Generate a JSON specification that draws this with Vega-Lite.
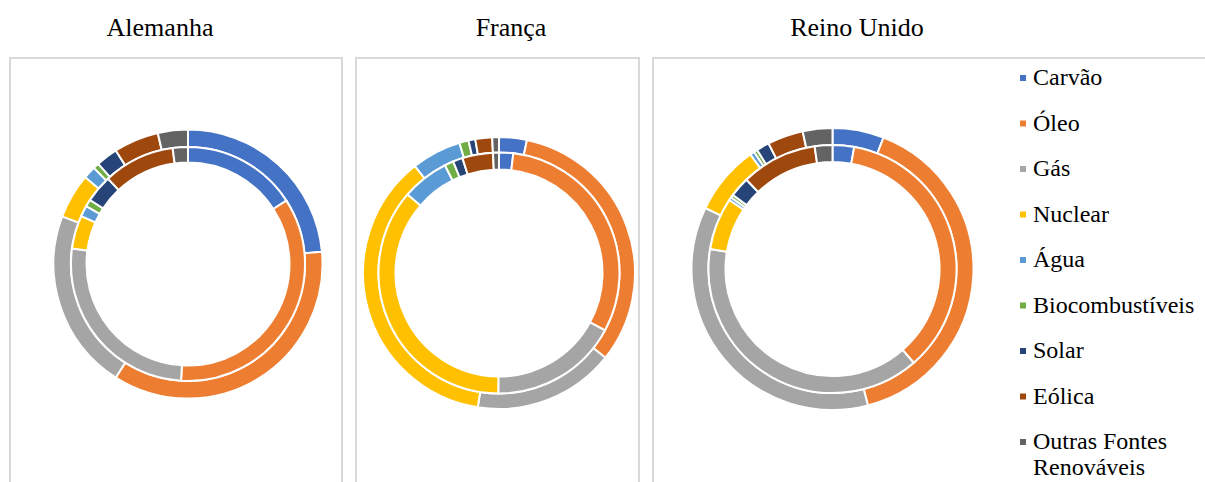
{
  "$schema": "https://vega.github.io/schema/vega-lite/v6.json",
  "padding": {"left": 9, "top": 14, "right": 0, "bottom": 0},
  "background": "white",
  "data": {
    "values": [
      {"pais": "Alemanha", "anel": "externo", "fonte": "Carvão", "ordem": 1, "valor": 23.5},
      {"pais": "Alemanha", "anel": "externo", "fonte": "Óleo", "ordem": 2, "valor": 35.4},
      {"pais": "Alemanha", "anel": "externo", "fonte": "Gás", "ordem": 3, "valor": 21.7},
      {"pais": "Alemanha", "anel": "externo", "fonte": "Nuclear", "ordem": 4, "valor": 5.4},
      {"pais": "Alemanha", "anel": "externo", "fonte": "Água", "ordem": 5, "valor": 1.5},
      {"pais": "Alemanha", "anel": "externo", "fonte": "Biocombustíveis", "ordem": 6, "valor": 0.7},
      {"pais": "Alemanha", "anel": "externo", "fonte": "Solar", "ordem": 7, "valor": 2.6},
      {"pais": "Alemanha", "anel": "externo", "fonte": "Eólica", "ordem": 8, "valor": 5.4},
      {"pais": "Alemanha", "anel": "externo", "fonte": "Outras Fontes Renováveis", "ordem": 9, "valor": 3.6},
      {"pais": "Alemanha", "anel": "interno", "fonte": "Carvão", "ordem": 1, "valor": 15.9},
      {"pais": "Alemanha", "anel": "interno", "fonte": "Óleo", "ordem": 2, "valor": 35.1},
      {"pais": "Alemanha", "anel": "interno", "fonte": "Gás", "ordem": 3, "valor": 26.2},
      {"pais": "Alemanha", "anel": "interno", "fonte": "Nuclear", "ordem": 4, "valor": 4.6},
      {"pais": "Alemanha", "anel": "interno", "fonte": "Água", "ordem": 5, "valor": 1.5},
      {"pais": "Alemanha", "anel": "interno", "fonte": "Biocombustíveis", "ordem": 6, "valor": 1.0},
      {"pais": "Alemanha", "anel": "interno", "fonte": "Solar", "ordem": 7, "valor": 3.8},
      {"pais": "Alemanha", "anel": "interno", "fonte": "Eólica", "ordem": 8, "valor": 9.9},
      {"pais": "Alemanha", "anel": "interno", "fonte": "Outras Fontes Renováveis", "ordem": 9, "valor": 2.1},
      {"pais": "França", "anel": "externo", "fonte": "Carvão", "ordem": 1, "valor": 3.3},
      {"pais": "França", "anel": "externo", "fonte": "Óleo", "ordem": 2, "valor": 32.4},
      {"pais": "França", "anel": "externo", "fonte": "Gás", "ordem": 3, "valor": 16.8},
      {"pais": "França", "anel": "externo", "fonte": "Nuclear", "ordem": 4, "valor": 36.9},
      {"pais": "França", "anel": "externo", "fonte": "Água", "ordem": 5, "valor": 5.9},
      {"pais": "França", "anel": "externo", "fonte": "Biocombustíveis", "ordem": 6, "valor": 1.1},
      {"pais": "França", "anel": "externo", "fonte": "Solar", "ordem": 7, "valor": 0.8},
      {"pais": "França", "anel": "externo", "fonte": "Eólica", "ordem": 8, "valor": 2.0},
      {"pais": "França", "anel": "externo", "fonte": "Outras Fontes Renováveis", "ordem": 9, "valor": 0.8},
      {"pais": "França", "anel": "interno", "fonte": "Carvão", "ordem": 1, "valor": 1.9},
      {"pais": "França", "anel": "interno", "fonte": "Óleo", "ordem": 2, "valor": 31.0},
      {"pais": "França", "anel": "interno", "fonte": "Gás", "ordem": 3, "valor": 17.2},
      {"pais": "França", "anel": "interno", "fonte": "Nuclear", "ordem": 4, "valor": 36.2},
      {"pais": "França", "anel": "interno", "fonte": "Água", "ordem": 5, "valor": 6.3},
      {"pais": "França", "anel": "interno", "fonte": "Biocombustíveis", "ordem": 6, "valor": 1.2},
      {"pais": "França", "anel": "interno", "fonte": "Solar", "ordem": 7, "valor": 1.3},
      {"pais": "França", "anel": "interno", "fonte": "Eólica", "ordem": 8, "valor": 4.1},
      {"pais": "França", "anel": "interno", "fonte": "Outras Fontes Renováveis", "ordem": 9, "valor": 0.8},
      {"pais": "Reino Unido", "anel": "externo", "fonte": "Carvão", "ordem": 1, "valor": 5.9},
      {"pais": "Reino Unido", "anel": "externo", "fonte": "Óleo", "ordem": 2, "valor": 40.1},
      {"pais": "Reino Unido", "anel": "externo", "fonte": "Gás", "ordem": 3, "valor": 36.2},
      {"pais": "Reino Unido", "anel": "externo", "fonte": "Nuclear", "ordem": 4, "valor": 8.0},
      {"pais": "Reino Unido", "anel": "externo", "fonte": "Água", "ordem": 5, "valor": 0.5},
      {"pais": "Reino Unido", "anel": "externo", "fonte": "Biocombustíveis", "ordem": 6, "valor": 0.4},
      {"pais": "Reino Unido", "anel": "externo", "fonte": "Solar", "ordem": 7, "valor": 1.5},
      {"pais": "Reino Unido", "anel": "externo", "fonte": "Eólica", "ordem": 8, "valor": 4.1},
      {"pais": "Reino Unido", "anel": "externo", "fonte": "Outras Fontes Renováveis", "ordem": 9, "valor": 3.4},
      {"pais": "Reino Unido", "anel": "interno", "fonte": "Carvão", "ordem": 1, "valor": 2.8},
      {"pais": "Reino Unido", "anel": "interno", "fonte": "Óleo", "ordem": 2, "valor": 35.8},
      {"pais": "Reino Unido", "anel": "interno", "fonte": "Gás", "ordem": 3, "valor": 38.9},
      {"pais": "Reino Unido", "anel": "interno", "fonte": "Nuclear", "ordem": 4, "valor": 6.8},
      {"pais": "Reino Unido", "anel": "interno", "fonte": "Água", "ordem": 5, "valor": 0.4},
      {"pais": "Reino Unido", "anel": "interno", "fonte": "Biocombustíveis", "ordem": 6, "valor": 0.4},
      {"pais": "Reino Unido", "anel": "interno", "fonte": "Solar", "ordem": 7, "valor": 2.6},
      {"pais": "Reino Unido", "anel": "interno", "fonte": "Eólica", "ordem": 8, "valor": 9.9},
      {"pais": "Reino Unido", "anel": "interno", "fonte": "Outras Fontes Renováveis", "ordem": 9, "valor": 2.3}
    ]
  },
  "config": {
    "view": {"stroke": "#d9d9d9", "strokeWidth": 2},
    "title": {"font": "Liberation Serif", "fontSize": 26, "fontWeight": "normal", "color": "#000000", "anchor": "middle", "offset": 17},
    "arc": {"stroke": "white", "strokeWidth": 2},
    "legend": {
      "title": null,
      "symbolType": "square",
      "symbolSize": 64,
      "symbolStrokeWidth": 0,
      "labelFont": "Liberation Serif",
      "labelFontSize": 24,
      "labelColor": "#000000",
      "labelOffset": -2,
      "rowPadding": 21.5,
      "labelLimit": 300
    }
  },
  "spacing": 12,
  "resolve": {"scale": {"theta": "independent"}},
  "hconcat": [
    {
      "title": {"text": "Alemanha", "dx": -16},
      "width": 332,
      "height": 440,
      "transform": [{"filter": "datum.pais == 'Alemanha'"}],
      "encoding": {
        "theta": {"field": "valor", "type": "quantitative", "stack": true},
        "order": {"field": "ordem", "type": "quantitative"},
        "color": {"field": "fonte", "type": "nominal",
          "scale": {"domain": ["Carvão", "Óleo", "Gás", "Nuclear", "Água", "Biocombustíveis", "Solar", "Eólica", "Outras Fontes Renováveis"],
                    "range": ["#4472C4", "#ED7D31", "#A5A5A5", "#FFC000", "#5B9BD5", "#70AD47", "#264478", "#9E480E", "#636363"]},
          "legend": {"orient": "none", "legendX": 1001, "legendY": 8,
            "labelExpr": "datum.label == 'Outras Fontes Renováveis' ? ['Outras Fontes', 'Renováveis'] : datum.label"}},
        "x": {"value": 178},
        "y": {"value": 206}
      },
      "layer": [
        {"transform": [{"filter": "datum.anel == 'externo'"}], "mark": {"type": "arc", "radius": 134.5, "radius2": 117}},
        {"transform": [{"filter": "datum.anel == 'interno'"}], "mark": {"type": "arc", "radius": 117, "radius2": 101.5}}
      ],
      "resolve": {"scale": {"theta": "independent"}}
    },
    {
      "title": {"text": "França", "dx": 13.5},
      "width": 283,
      "height": 440,
      "transform": [{"filter": "datum.pais == 'França'"}],
      "encoding": {
        "theta": {"field": "valor", "type": "quantitative", "stack": true},
        "order": {"field": "ordem", "type": "quantitative"},
        "color": {"field": "fonte", "type": "nominal",
          "scale": {"domain": ["Carvão", "Óleo", "Gás", "Nuclear", "Água", "Biocombustíveis", "Solar", "Eólica", "Outras Fontes Renováveis"],
                    "range": ["#4472C4", "#ED7D31", "#A5A5A5", "#FFC000", "#5B9BD5", "#70AD47", "#264478", "#9E480E", "#636363"]},
          "legend": {"orient": "none", "legendX": 1001, "legendY": 8,
            "labelExpr": "datum.label == 'Outras Fontes Renováveis' ? ['Outras Fontes', 'Renováveis'] : datum.label"}},
        "x": {"value": 143},
        "y": {"value": 215}
      },
      "layer": [
        {"transform": [{"filter": "datum.anel == 'externo'"}], "mark": {"type": "arc", "radius": 136, "radius2": 120.5}},
        {"transform": [{"filter": "datum.anel == 'interno'"}], "mark": {"type": "arc", "radius": 120.5, "radius2": 103.5}}
      ],
      "resolve": {"scale": {"theta": "independent"}}
    },
    {
      "title": {"text": "Reino Unido", "dx": -76},
      "width": 560,
      "height": 440,
      "transform": [{"filter": "datum.pais == 'Reino Unido'"}],
      "encoding": {
        "theta": {"field": "valor", "type": "quantitative", "stack": true},
        "order": {"field": "ordem", "type": "quantitative"},
        "color": {"field": "fonte", "type": "nominal",
          "scale": {"domain": ["Carvão", "Óleo", "Gás", "Nuclear", "Água", "Biocombustíveis", "Solar", "Eólica", "Outras Fontes Renováveis"],
                    "range": ["#4472C4", "#ED7D31", "#A5A5A5", "#FFC000", "#5B9BD5", "#70AD47", "#264478", "#9E480E", "#636363"]},
          "legend": {"orient": "none", "legendX": 1001, "legendY": 8,
            "labelExpr": "datum.label == 'Outras Fontes Renováveis' ? ['Outras Fontes', 'Renováveis'] : datum.label"}},
        "x": {"value": 179.5},
        "y": {"value": 211}
      },
      "layer": [
        {"transform": [{"filter": "datum.anel == 'externo'"}], "mark": {"type": "arc", "radius": 141, "radius2": 124}},
        {"transform": [{"filter": "datum.anel == 'interno'"}], "mark": {"type": "arc", "radius": 124, "radius2": 107}}
      ],
      "resolve": {"scale": {"theta": "independent"}}
    }
  ]
}
